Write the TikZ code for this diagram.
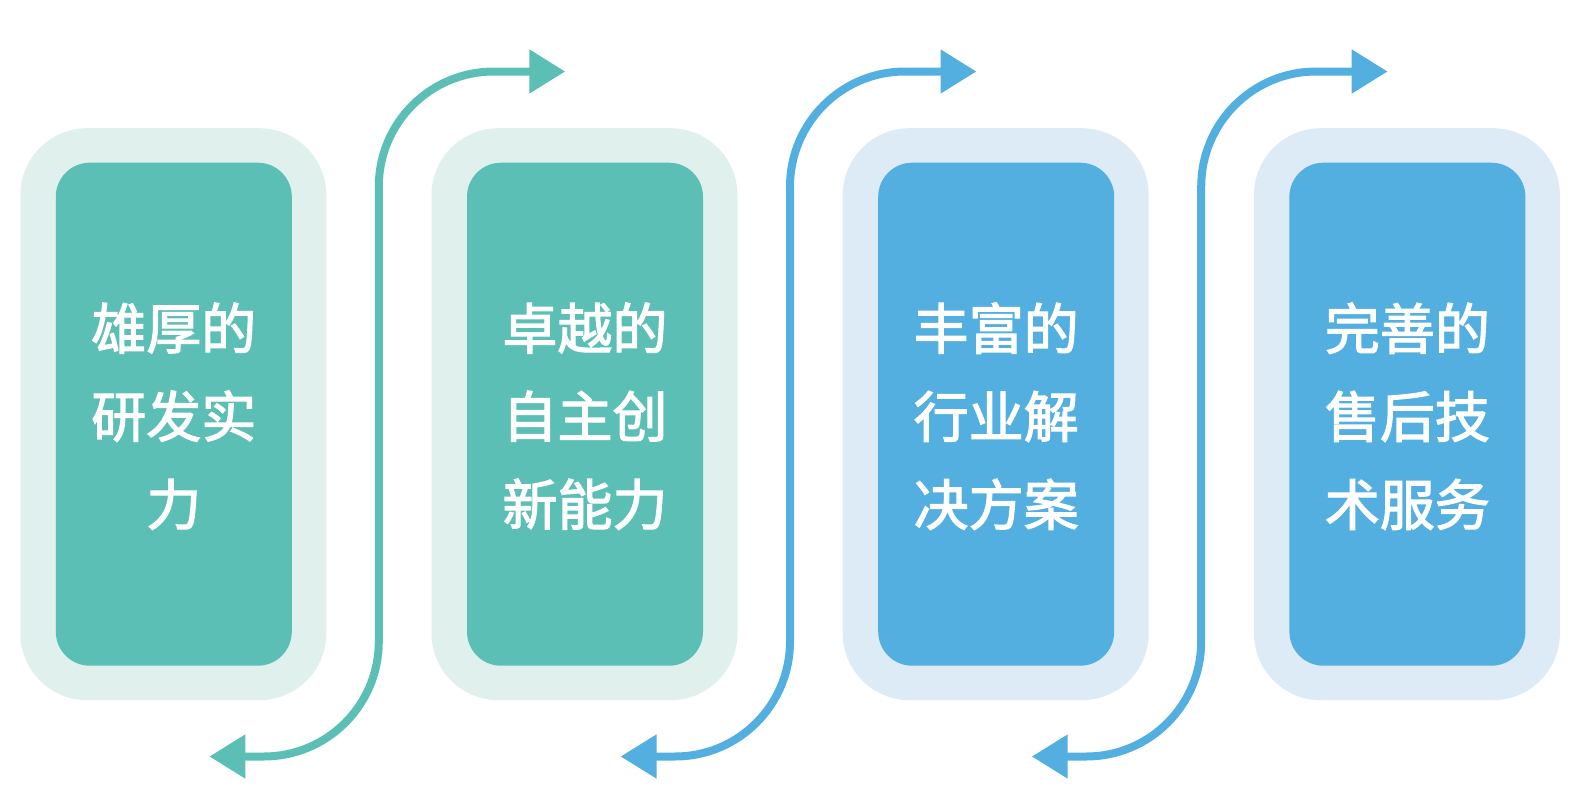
\documentclass[tikz,border=0pt]{standalone}
\usepackage{fontspec}
\setmainfont{Noto Sans CJK SC}
\newfontfamily\boxfont{Noto Sans CJK SC}[FakeBold=2.2]
\usetikzlibrary{arrows.meta}
\definecolor{gdark}{HTML}{5BBFB5}
\definecolor{glight}{HTML}{E0F0EC}
\definecolor{bdark}{HTML}{52AFE0}
\definecolor{blight}{HTML}{DDEBF7}
\begin{document}
\begin{tikzpicture}[x=1pt,y=-1pt,
  outerbox/.style={draw=none,fill=#1,minimum width=306pt,minimum height=572pt,rounded corners=67pt,inner sep=0pt},
  innerbox/.style={draw=none,fill=#1,minimum width=236pt,minimum height=503pt,rounded corners=34pt,inner sep=0pt},
  boxtext/.style={text=white,align=center,inner sep=0pt,font=\boxfont\fontsize{55pt}{88pt}\selectfont},
  link/.style={draw=#1,line width=8pt,rounded corners=115pt,
    {Triangle[width=42pt,length=36pt]}-{Triangle[width=42pt,length=36pt]}}]
\useasboundingbox (0,0) rectangle (1584,811);
\foreach \i/\oc/\ic/\t in {0/glight/gdark/{雄厚的\\研发实\\力},
                         1/glight/gdark/{卓越的\\自主创\\新能力},
                         2/blight/bdark/{丰富的\\行业解\\决方案},
                         3/blight/bdark/{完善的\\售后技\\术服务}}{
  \node[outerbox=\oc] (o\i) at ({173.3+411.2*\i},414.2) {};
  \node[innerbox=\ic] (b\i) at ({173.8+411.2*\i},414.2) {};
  \node[boxtext] (t\i) at ([yshift=-2pt]b\i.center) {\t};
}
\foreach \i/\c in {1/gdark,2/bdark,3/bdark}{
  \pgfmathsetmacro{\cx}{378.8+411.2*(\i-1)}
  \coordinate (lo\i) at ({\cx-169.5},756.5);
  \coordinate (hi\i) at ({\cx+186.5},71.5);
  \draw[link=\c] (lo\i) -- (\cx,756.5) -- (\cx,71.5) -- (hi\i);
}
\end{tikzpicture}
\end{document}
